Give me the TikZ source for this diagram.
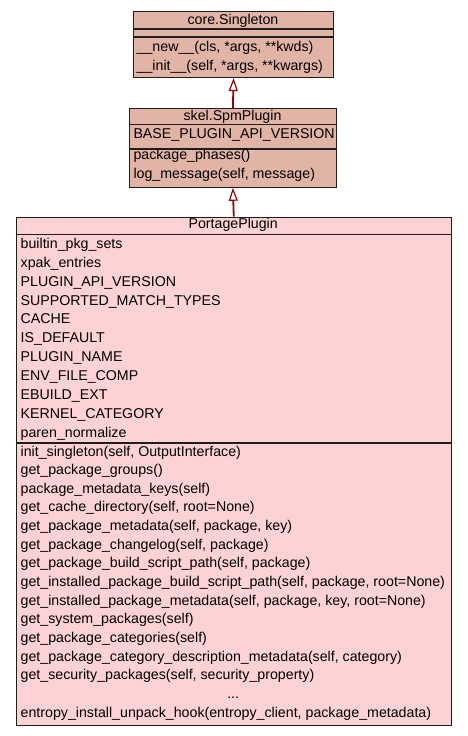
\documentclass[tikz,border=0pt]{standalone}
\usepackage{fontspec}
\setmainfont{Liberation Sans}
\usetikzlibrary{arrows.meta}
\definecolor{topfill}{RGB}{225,180,165}
\definecolor{botfill}{RGB}{252,210,212}
\definecolor{edgered}{RGB}{140,8,8}
\definecolor{boxline}{RGB}{30,30,30}
\begin{document}
\begin{tikzpicture}[x=1pt,y=-1pt,
  classbox/.style={draw=boxline, line width=1.1pt, inner sep=0pt, anchor=north west},
  sepline/.style={draw=boxline, line width=1.1pt},
  txt/.style={anchor=base west, inner sep=0pt, font=\fontsize{14.2}{16}\selectfont},
  ttl/.style={anchor=base, inner sep=0pt, font=\fontsize{14.2}{16}\selectfont},
  inherit/.style={draw=edgered, line width=1.8pt, -{Triangle[open, length=13pt, width=9pt, line width=1.2pt, fill=white]}}
]
\useasboundingbox (0,0) rectangle (467,736);
\fill[white] (0,0) rectangle (467,736);

% core.Singleton
\node[classbox, fill=topfill, minimum width=200.6pt, minimum height=66pt] (single) at (132.7,11) {};
\draw[sepline] (132.7,29) -- (333.3,29);
\draw[sepline] (132.7,37) -- (333.3,37);
\node[ttl] (singlet) at (233,24) {core.Singleton};
\node[txt] (s1) at (136.5,51.7) {\_\_new\_\_(cls, *args, **kwds)};
\node[txt] (s2) at (136.5,70.3) {\_\_init\_\_(self, *args, **kwargs)};

% skel.SpmPlugin
\node[classbox, fill=topfill, minimum width=206.7pt, minimum height=78.7pt] (spm) at (129,108) {};
\draw[sepline] (129,124.3) -- (335.7,124.3);
\draw[sepline] (129,149) -- (335.7,149);
\node[ttl] (spmt) at (232.5,120) {skel.SpmPlugin};
\node[txt] (p1) at (133.3,138.3) {BASE\_PLUGIN\_API\_VERSION};
\node[txt] (p2) at (133.3,159.3) {package\_phases()};
\node[txt] (p3) at (133.3,178.3) {log\_message(self, message)};

% PortagePlugin
\node[classbox, fill=botfill, minimum width=435pt, minimum height=508.3pt] (portage) at (15.7,216.7) {};
\draw[sepline] (15.7,234.7) -- (450.7,234.7);
\draw[sepline] (15.7,443) -- (450.7,443);
\node[ttl] (portt) at (233.2,228.8) {PortagePlugin};
\foreach \t [count=\i from 0] in {
  builtin\_pkg\_sets,
  xpak\_entries,
  PLUGIN\_API\_VERSION,
  SUPPORTED\_MATCH\_TYPES,
  CACHE,
  IS\_DEFAULT,
  PLUGIN\_NAME,
  ENV\_FILE\_COMP,
  EBUILD\_EXT,
  KERNEL\_CATEGORY,
  paren\_normalize}
  \node[txt] (a\i) at (20.5,248.3+18.9*\i) {\t};
\foreach \t [count=\i from 0] in {
  {init\_singleton(self, OutputInterface)},
  {get\_package\_groups()},
  {package\_metadata\_keys(self)},
  {get\_cache\_directory(self, root=None)},
  {get\_package\_metadata(self, package, key)},
  {get\_package\_changelog(self, package)},
  {get\_package\_build\_script\_path(self, package)},
  {get\_installed\_package\_build\_script\_path(self, package, root=None)},
  {get\_installed\_package\_metadata(self, package, key, root=None)},
  {get\_system\_packages(self)},
  {get\_package\_categories(self)},
  {get\_package\_category\_description\_metadata(self, category)},
  {get\_security\_packages(self, security\_property)}}
  \node[txt] (m\i) at (20.5,456+18.66*\i) {\t};
\node[ttl] (dots) at (233.2,456+18.66*13) {...};
\node[txt] (mlast) at (20.5,456+18.66*14) {entropy\_install\_unpack\_hook(entropy\_client, package\_metadata)};

% inheritance
\draw[inherit] (spm.north) -- (single.south);
\draw[inherit] (portage.north) -- (spm.south);
\end{tikzpicture}
\end{document}
